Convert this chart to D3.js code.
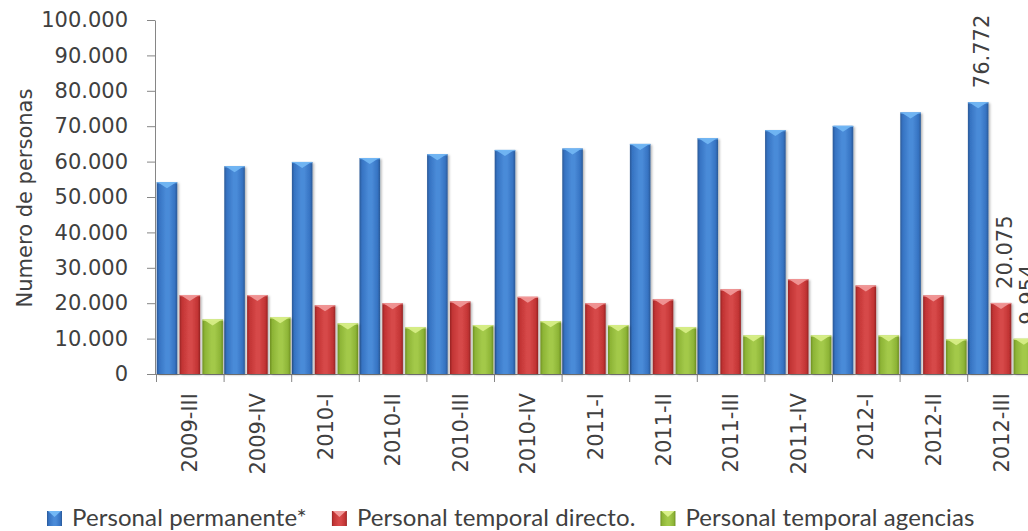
<!DOCTYPE html>
<html>
<head>
<meta charset="utf-8">
<script src="https://cdn.jsdelivr.net/npm/d3@7"></script>
<style>
  html, body { margin: 0; padding: 0; background: #fff; }
  svg { display: block; }
</style>
</head>
<body>
<svg id="chart" width="1028" height="531"></svg>
<script>
// ---- data ----
const categories = ["2009-III","2009-IV","2010-I","2010-II","2010-III","2010-IV","2011-I","2011-II","2011-III","2011-IV","2012-I","2012-II","2012-III"];
const permanente = [54200, 58700, 59900, 61000, 62100, 63300, 63700, 65000, 66600, 68900, 70100, 73900, 76772];
const temporalDirecto = [22300, 22300, 19400, 20000, 20500, 21800, 20000, 21100, 23900, 26800, 25000, 22200, 20075];
const temporalAgencias = [15400, 16000, 14300, 13200, 13800, 14900, 13800, 13200, 10900, 10900, 10900, 9800, 9954];
const seriesNames = ["Personal permanente*", "Personal temporal directo.", "Personal temporal agencias"];
const yTicks = [0, 10000, 20000, 30000, 40000, 50000, 60000, 70000, 80000, 90000, 100000];
const yTitle = "Numero de personas";
// labels shown only on the last category
const labelledCategory = "2012-III";

// ---- styles ----
const palette = [
  { edge: "#2a5896", mid: "#3673c2", light: "#4a8bd8", tri: "#73b8f5" },
  { edge: "#962424", mid: "#c23434", light: "#d64848", tri: "#f29a9a" },
  { edge: "#6e8f22", mid: "#8db436", light: "#a3c94a", tri: "#d9f08a" }
];
const textColor = "#404040";
const axisColor = "#868686";
const fontMain = "'DejaVu Sans', Verdana, sans-serif";
const fontLegend = "Lato, 'Open Sans', sans-serif";

const svg = d3.select("#chart");
const fmt = d3.formatLocale({ decimal: ",", thousands: ".", grouping: [3], currency: ["", ""] }).format(",");

const plot = { left: 155, top: 20, bottom: 374, catStart: 156, catStep: 67.6 };

const x = d3.scaleBand().domain(categories)
  .range([plot.catStart, plot.catStart + plot.catStep * categories.length])
  .paddingInner(0).paddingOuter(0);
const xSub = d3.scaleBand().domain([0, 1, 2]).range([0, x.bandwidth()])
  .paddingInner(0.1).paddingOuter(0.03);
const xEdge = d3.scaleLinear().domain([0, categories.length])
  .range([plot.catStart, plot.catStart + plot.catStep * categories.length]);
const y = d3.scaleLinear().domain([0, 100000]).range([plot.bottom, plot.top]);

// ---- defs ----
const defs = svg.append("defs");
palette.forEach((p, i) => {
  const g = defs.append("linearGradient").attr("id", "grad" + i)
    .attr("x1", "0").attr("x2", "1").attr("y1", "0").attr("y2", "0");
  [[0, p.edge], [0.12, p.mid], [0.45, p.light], [0.6, p.light], [0.88, p.mid], [1, p.edge]]
    .forEach(([o, c]) => g.append("stop").attr("offset", o).attr("stop-color", c));
});
const shadow = defs.append("filter").attr("id", "shadow")
  .attr("x", "-20%").attr("y", "-5%").attr("width", "150%").attr("height", "115%");
shadow.append("feDropShadow").attr("dx", 1.5).attr("dy", 1).attr("stdDeviation", 1.2)
  .attr("flood-color", "#000").attr("flood-opacity", 0.3);

// ---- axes ----
const yAxis = svg.append("g").attr("transform", `translate(${plot.left},0)`)
  .call(d3.axisLeft(y).tickValues(yTicks).tickFormat(fmt).tickSize(8).tickSizeOuter(0).tickPadding(19));
yAxis.select(".domain").attr("stroke", axisColor);
yAxis.selectAll(".tick line").attr("stroke", axisColor);
yAxis.selectAll(".tick text").attr("fill", textColor).style("font-family", fontMain).style("font-size", "21px");

const xTicks = svg.append("g").attr("transform", `translate(0,${plot.bottom})`)
  .call(d3.axisBottom(xEdge).tickValues(d3.range(0, categories.length + 1)).tickFormat("").tickSize(8).tickSizeOuter(0));
xTicks.select(".domain").attr("stroke", axisColor).attr("d", `M${plot.left - 8},0.5H1040`);
xTicks.selectAll(".tick line").attr("stroke", axisColor);

const xLabels = svg.append("g").attr("transform", `translate(0,${plot.bottom})`)
  .call(d3.axisBottom(x).tickSize(0).tickPadding(0));
xLabels.select(".domain").remove();
xLabels.selectAll(".tick text")
  .attr("fill", textColor).style("font-family", fontMain).style("font-size", "21px")
  .attr("text-anchor", "end").attr("transform", "rotate(-90)")
  .attr("x", -19).attr("y", 0).attr("dy", "0.36em");

svg.append("text")
  .attr("transform", `translate(24,198) rotate(-90)`)
  .attr("text-anchor", "middle").attr("dy", "0.36em")
  .attr("fill", textColor).style("font-family", fontMain).style("font-size", "21px")
  .text(yTitle);

// ---- bars ----
const seriesData = [permanente, temporalDirecto, temporalAgencias];
const barLayer = svg.append("g");
seriesData.forEach((vals, si) => {
  const rows = categories.map((c, i) => ({ c, v: vals[i] }));
  const g = barLayer.append("g");
  const bars = g.selectAll("g.bar").data(rows).join("g").attr("class", "bar");
  bars.append("rect")
    .attr("x", d => x(d.c) + xSub(si))
    .attr("y", d => y(d.v))
    .attr("width", xSub.bandwidth())
    .attr("height", d => y(0) - y(d.v))
    .attr("fill", `url(#grad${si})`)
    .attr("filter", "url(#shadow)");
  bars.append("path")
    .attr("d", d => {
      const x0 = x(d.c) + xSub(si), w = xSub.bandwidth(), t = y(d.v);
      return `M${x0 + 1},${t}H${x0 + w - 1}L${x0 + w / 2},${t + 6}Z`;
    })
    .attr("fill", palette[si].tri).attr("opacity", 0.9);
  bars.append("rect")
    .attr("x", d => x(d.c) + xSub(si))
    .attr("y", d => y(d.v))
    .attr("width", xSub.bandwidth()).attr("height", 1.2)
    .attr("fill", palette[si].tri).attr("opacity", 0.8);
  // data label on last category
  g.selectAll("text.lbl").data(rows.filter(d => d.c === labelledCategory)).join("text")
    .attr("class", "lbl")
    .attr("transform", d => `translate(${x(d.c) + xSub(si) + xSub.bandwidth() / 2 + 11},${y(d.v) - 14}) rotate(-90)`)
    .attr("text-anchor", "start")
    .attr("fill", textColor).style("font-family", fontMain).style("font-size", "21px")
    .text(d => fmt(d.v));
});

// ---- legend ----
const legend = svg.append("g").attr("transform", "translate(47,526)");
let lx = 0;
seriesNames.forEach((name, i) => {
  const item = legend.append("g").attr("transform", `translate(${lx},0)`);
  item.append("rect").attr("x", 0).attr("y", -15).attr("width", 15).attr("height", 15)
    .attr("fill", `url(#grad${i})`);
  item.append("path").attr("d", "M1,-15H14L7.5,-9Z").attr("fill", palette[i].tri);
  const t = item.append("text").attr("x", 25).attr("y", 0)
    .attr("fill", textColor).style("font-family", fontLegend).style("font-size", "24px")
    .style("letter-spacing", "0.1px")
    .text(name);
  lx += 25 + t.node().getComputedTextLength() + 25;
});
</script>
</body>
</html>
